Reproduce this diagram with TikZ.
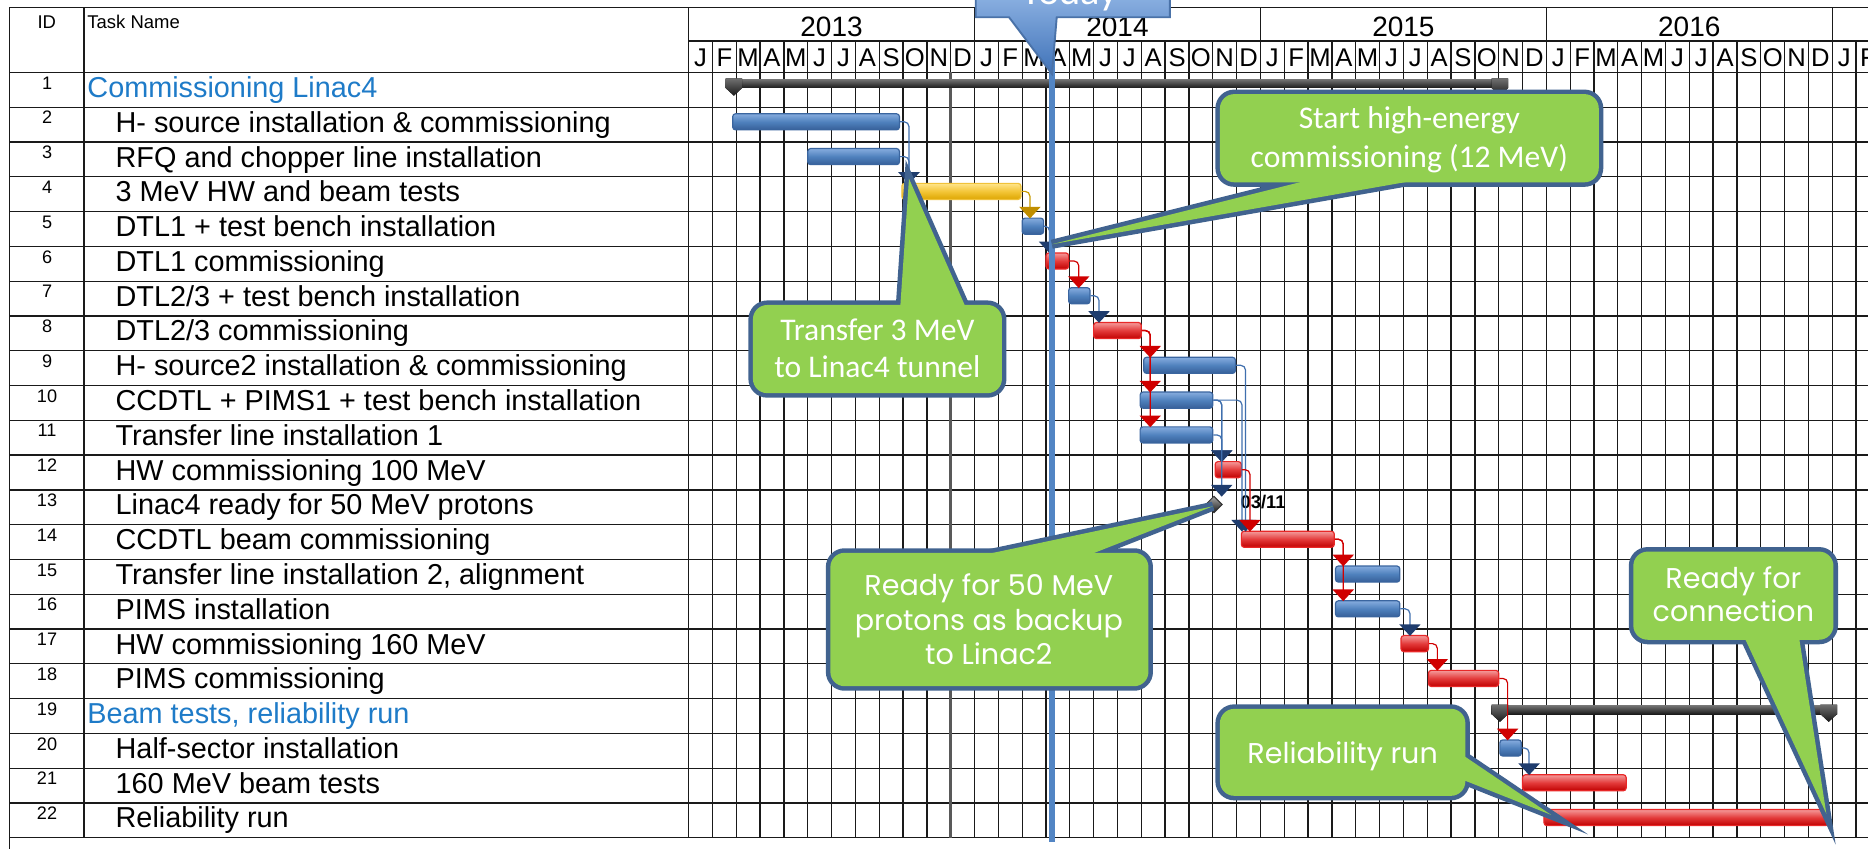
\documentclass[tikz,border=0pt]{standalone}
\usepackage{fontspec}
\setmainfont{Liberation Sans}
\newfontfamily\calfont{Carlito}
\newfontfamily\comicfont{Poppins}
\usetikzlibrary{arrows.meta,shapes.geometric,calc}
\definecolor{gridc}{HTML}{1A1A1A}
\definecolor{sumblue}{HTML}{1E7BC8}
\definecolor{cbord}{HTML}{41638F}
\definecolor{cfill}{HTML}{92D050}
\definecolor{todayc}{HTML}{5285C4}
\definecolor{navy}{HTML}{1F3D6E}
\definecolor{lnblue}{HTML}{3F6FAE}
\definecolor{lnred}{HTML}{D00000}
\definecolor{lngold}{HTML}{C79A00}
\definecolor{tipgold}{HTML}{C08E00}
\definecolor{barbluet}{HTML}{86ACDE}
\definecolor{barbluem}{HTML}{4F81BD}
\definecolor{barblueb}{HTML}{365F98}
\definecolor{barbluebd}{HTML}{3A659F}
\definecolor{barredt}{HTML}{F49A9A}
\definecolor{barredm}{HTML}{E33A3A}
\definecolor{barredb}{HTML}{C00000}
\definecolor{barredbd}{HTML}{E82828}
\definecolor{baryelt}{HTML}{FFE48A}
\definecolor{baryelm}{HTML}{F3C537}
\definecolor{baryelb}{HTML}{DDA500}
\definecolor{baryelbd}{HTML}{F0C23A}
\definecolor{sumtop}{HTML}{707070}
\definecolor{sumbot}{HTML}{1A1A1A}
\definecolor{todayt}{HTML}{A9C9F2}
\definecolor{todayb}{HTML}{3F72B8}
\definecolor{todaybd}{HTML}{4A72A8}
\newcommand\mletter[1]{\ifcase#1 J\or F\or M\or A\or M\or J\or J\or A\or S\or O\or N\or D\fi}
\newcommand\gbar[5]{\node[gbarst,#5,minimum width={(#4-#3)*0.5pt}] (#1) at ({(#3+#4)/2},{rt(#2)+12.25}) {};}
% line colour, tip colour, from node, to node, horizontal offset
\newcommand\gconn[5]{%
  \coordinate (tmpc) at ($(#3.east)+(#5,0)$);
  \coordinate (tmpe) at (tmpc |- #4.north);
  \draw[draw=#1,line width=0.5pt,rounded corners=2pt] (#3.east) -| ($(tmpe)+(0,-4)$);
  \fill[#2] ($(tmpe)+(-9,-9)$) -- ($(tmpe)+(9,-9)$) -- ($(tmpe)+(0,0.8)$) -- cycle;}
\newcommand\sumbar[3]{%
  \fill[top color=sumtop,bottom color=sumbot] (#2,{rt(#1)+6}) rectangle (#3,{rt(#1)+13});
  \fill[top color=sumtop,bottom color=sumbot] (#2,{rt(#1)+5}) -- ({#2+14},{rt(#1)+5}) -- ({#2+14},{rt(#1)+13}) -- ({#2+7},{rt(#1)+19.5}) -- (#2,{rt(#1)+13}) -- cycle;
  \fill[top color=sumtop,bottom color=sumbot] ({#3-14},{rt(#1)+5}) -- (#3,{rt(#1)+5}) -- (#3,{rt(#1)+13}) -- ({#3-7},{rt(#1)+19.5}) -- ({#3-14},{rt(#1)+13}) -- cycle;}
\newcommand\callout[2]{%
  \draw[cbord,line width=3.8pt,rounded corners=6pt] #1;
  \draw[cbord,line width=3.8pt] #2;
  \fill[cfill,rounded corners=6pt] #1;
  \fill[cfill] #2;}
\begin{document}
\begin{tikzpicture}[x=0.5pt,y=-0.5pt,
  declare function={rt(\k)=60.8+(\k-1)*29.2;},
  gl/.style={draw=gridc,line width=0.55pt},
  task/.style={anchor=base west,inner sep=0pt,font=\fontsize{12.1}{14}\selectfont},
  sumtask/.style={task,text=sumblue},
  idn/.style={anchor=base,inner sep=0pt,font=\fontsize{7.6}{9}\selectfont},
  hdr/.style={anchor=base,inner sep=0pt,font=\fontsize{7.75}{9}\selectfont},
  yr/.style={anchor=base,inner sep=0pt,font=\fontsize{11.75}{13}\selectfont},
  mon/.style={anchor=base,inner sep=0pt,font=\fontsize{10.75}{12}\selectfont},
  gbarst/.style={rectangle,rounded corners=1.2pt,minimum height=6.75pt,inner sep=0pt,line width=0.5pt},
  bluebar/.style={draw=barbluebd,top color=barbluet,bottom color=barblueb,middle color=barbluem},
  redbar/.style={draw=barredbd,top color=barredt,bottom color=barredb,middle color=barredm},
  yellowbar/.style={draw=baryelbd,top color=baryelt,bottom color=baryelb,middle color=baryelm},
  ctxt/.style={anchor=base,inner sep=0pt,text=white,font=\calfont\fontsize{13.25}{15}\selectfont},
  comtxt/.style={anchor=base,inner sep=0pt,text=white,font=\comicfont\fontsize{12}{14}\selectfont}
]
\path[use as bounding box] (0,0) rectangle (1568,713);
\clip (0,0) rectangle (1568,713);
\fill[white] (0,0) rectangle (1568,713);
% ---------- table and grid ----------
\foreach \k in {0,...,49} \draw[gl] ({578+20*\k},34.4) -- ({578+20*\k},703.2);
\foreach \j in {1,...,4} \draw[gl] ({578+240*\j},6.2) -- ({578+240*\j},34.4);
\draw[gl] (8.2,6.2) -- (1568,6.2);
\draw[gl] (578,34.4) -- (1568,34.4);
\foreach \k in {0,...,22} \draw[gl] (8.2,{60.8+29.2*\k}) -- (1568,{60.8+29.2*\k});
\draw[gl] (8.2,6.2) -- (8.2,713);
\draw[gl] (70.4,6.2) -- (70.4,703.2);
\draw[gl] (578,6.2) -- (578,703.2);
\draw[draw=black!65,line width=1.3pt] (797.5,60.8) -- (797.5,703.2);
% ---------- header text ----------
\node[hdr] (hid) at (39.3,23.8) {ID};
\node[hdr,anchor=base west] (htask) at (73,23.8) {Task Name};
\node[yr] (y13) at (698,31) {2013};
\node[yr] (y14) at (938,31) {2014};
\node[yr] (y15) at (1178,31) {2015};
\node[yr] (y16) at (1418,31) {2016};
\foreach \k in {0,...,49}{%
  \pgfmathtruncatemacro\m{mod(\k,12)}%
  \node[mon] (mo\k) at ({588+20*\k},56) {\mletter{\m}};}
% ---------- IDs ----------
\foreach \k in {1,...,22} \node[idn] (id\k) at (39.5,{rt(\k)+14}) {\k};
% ---------- task names ----------
\node[sumtask] (t1) at (73,{rt(1)+21}) {Commissioning Linac4};
\node[task] (t2) at (96.7,{rt(2)+21}) {H- source installation \& commissioning};
\node[task] (t3) at (96.7,{rt(3)+21}) {RFQ and chopper line installation};
\node[task] (t4) at (96.7,{rt(4)+21}) {3 MeV HW and beam tests};
\node[task] (t5) at (96.7,{rt(5)+21}) {DTL1 + test bench installation};
\node[task] (t6) at (96.7,{rt(6)+21}) {DTL1 commissioning};
\node[task] (t7) at (96.7,{rt(7)+21}) {DTL2/3 + test bench installation};
\node[task] (t8) at (96.7,{rt(8)+21}) {DTL2/3 commissioning};
\node[task] (t9) at (96.7,{rt(9)+21}) {H- source2 installation \& commissioning};
\node[task] (t10) at (96.7,{rt(10)+21}) {CCDTL + PIMS1 + test bench installation};
\node[task] (t11) at (96.7,{rt(11)+21}) {Transfer line installation 1};
\node[task] (t12) at (96.7,{rt(12)+21}) {HW commissioning 100 MeV};
\node[task] (t13) at (96.7,{rt(13)+21}) {Linac4 ready for 50 MeV protons};
\node[task] (t14) at (96.7,{rt(14)+21}) {CCDTL beam commissioning};
\node[task] (t15) at (96.7,{rt(15)+21}) {Transfer line installation 2, alignment};
\node[task] (t16) at (96.7,{rt(16)+21}) {PIMS installation};
\node[task] (t17) at (96.7,{rt(17)+21}) {HW commissioning 160 MeV};
\node[task] (t18) at (96.7,{rt(18)+21}) {PIMS commissioning};
\node[sumtask] (t19) at (73,{rt(19)+21}) {Beam tests, reliability run};
\node[task] (t20) at (96.7,{rt(20)+21}) {Half-sector installation};
\node[task] (t21) at (96.7,{rt(21)+21}) {160 MeV beam tests};
\node[task] (t22) at (96.7,{rt(22)+21}) {Reliability run};
% ---------- summary bars ----------
\sumbar{1}{609}{1266}
\sumbar{19}{1252}{1542}
% ---------- task bars ----------
\gbar{b2}{2}{615}{755}{bluebar}
\gbar{b3}{3}{678}{755}{bluebar}
\gbar{b4}{4}{757}{857}{yellowbar}
\gbar{b5}{5}{858}{876}{bluebar}
\gbar{b6}{6}{878}{897}{redbar}
\gbar{b7}{7}{897}{915}{bluebar}
\gbar{b8}{8}{918}{958}{redbar}
\gbar{b9}{9}{960}{1037}{bluebar}
\gbar{b10}{10}{957}{1018}{bluebar}
\gbar{b11}{11}{957}{1018}{bluebar}
\gbar{b12}{12}{1020}{1042}{redbar}
\gbar{b14}{14}{1042}{1120}{redbar}
\gbar{b15}{15}{1121}{1175}{bluebar}
\gbar{b16}{16}{1121}{1175}{bluebar}
\gbar{b17}{17}{1176}{1199}{redbar}
\gbar{b18}{18}{1199}{1258}{redbar}
\gbar{b20}{20}{1259}{1277}{bluebar}
\gbar{b21}{21}{1278}{1365}{redbar}
\gbar{b22}{22}{1296}{1535}{redbar}
\node[diamond,inner sep=0pt,minimum width=7pt,minimum height=7pt,top color=gray!70,bottom color=black!90,draw=black!80,line width=0.4pt] (m13) at (1019,{rt(13)+12.25}) {};
\node[anchor=base west,inner sep=0pt,font=\bfseries\fontsize{7.7}{9}\selectfont] (l13) at (1041,{rt(13)+15.4}) {03/11};
% ---------- connectors ----------
\gconn{lnblue}{navy}{b2}{b4}{7.5}
\gconn{lnblue}{navy}{b3}{b4}{7.5}
\gconn{lngold}{tipgold}{b4}{b5}{7}
\gconn{lnblue}{navy}{b5}{b6}{4.5}
\gconn{lnred}{lnred}{b6}{b7}{8}
\gconn{lnblue}{navy}{b7}{b8}{7}
\gconn{lnred}{lnred}{b8}{b9}{7}
\gconn{lnred}{lnred}{b8}{b10}{7}
\gconn{lnred}{lnred}{b8}{b11}{7}
\gconn{lnblue}{navy}{b10}{b12}{7}
\gconn{lnblue}{navy}{b11}{b12}{7}
\gconn{lnblue}{navy}{b10}{m13}{7}
\gconn{lnblue}{navy}{b10}{b14}{24}
\gconn{lnblue}{navy}{b9}{b14}{8}
\gconn{lnred}{lnred}{b12}{b14}{6.7}
\gconn{lnred}{lnred}{b14}{b15}{7}
\gconn{lnred}{lnred}{b14}{b16}{7}
\gconn{lnblue}{navy}{b16}{b17}{8}
\gconn{lnred}{lnred}{b17}{b18}{7}
\gconn{lnred}{lnred}{b18}{b20}{7}
\gconn{lnblue}{navy}{b20}{b21}{6}
% ---------- today line ----------
\coordinate (tdtop) at (883,10);
\coordinate (tdbot) at (883,707);
\draw[todayc,line width=2.7pt] (tdtop) -- (tdbot);
% ---------- callouts ----------
\callout{(1024,79) rectangle (1342,153)}{(1103,150) -- (883,205) -- (1196,150) -- cycle}
\node[ctxt] (c1a) at (1183,108) {Start high-energy};
\node[ctxt] (c1b) at (1183,141) {commissioning (12 MeV)};
\callout{(632,256) rectangle (841,330)}{(755.5,260) -- (763,150) -- (811.5,260) -- cycle}
\node[ctxt] (c2a) at (736.5,286) {Transfer 3 MeV};
\node[ctxt] (c2b) at (736.5,316.6) {to Linac4 tunnel};
\callout{(697,464) rectangle (964,576)}{(815,468) -- (1018,425) -- (908.6,468) -- cycle}
\node[comtxt] (c3a) at (830,500) {Ready for 50 MeV};
\node[comtxt] (c3b) at (830,529.5) {protons as backup};
\node[comtxt] (c3c) at (830,558) {to Linac2};
\callout{(1371,463) rectangle (1539,537)}{(1463.3,533) -- (1533,683) -- (1509.8,533) -- cycle}
\node[comtxt] (c4a) at (1455,494) {Ready for};
\node[comtxt] (c4b) at (1455,521.8) {connection};
\callout{(1024,595) rectangle (1230,668)}{(1226,632.6) -- (1302,684) -- (1226,653.8) -- cycle}
\node[comtxt] (c5a) at (1127,640.7) {Reliability run};
% ---------- today callout ----------
\draw[draw=todaybd,line width=0.8pt,top color=todayt,bottom color=todayb] (819,-30) -- (982,-30) -- (982,14.5) -- (887,14.5) -- (883,62) -- (847,14.5) -- (819,14.5) -- cycle;
\node[anchor=base,inner sep=0pt,text=white,font=\calfont\fontsize{17}{19}\selectfont] (today) at (898,4) {Today};
\end{tikzpicture}
\end{document}
